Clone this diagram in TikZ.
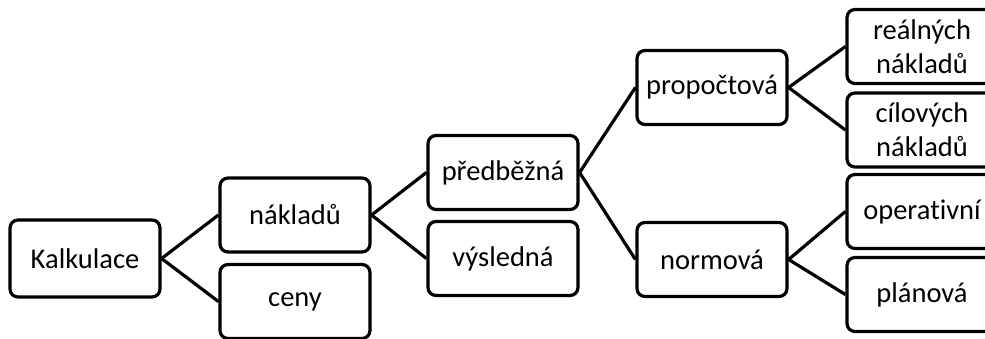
\documentclass[tikz,border=0pt]{standalone}
\usepackage{fontspec}
\setmainfont[Ligatures=NoCommon]{Carlito}
\begin{document}
\begin{tikzpicture}[x=1pt,y=-1pt,
  box/.style={draw=black, line width=3.2pt, rounded corners=8pt, minimum width=150pt,
    minimum height=74pt, inner sep=2pt, align=center, font=\fontsize{28.5}{34}\selectfont},
  link/.style={draw=black, line width=3.2pt}]
  \clip (0,0) rectangle (985,338);
  \useasboundingbox (0,0) rectangle (985,338);
  % level 0
  \node[box, minimum height=77pt] (kal) at (85,258.5) {Kalkulace};
  % level 1
  \node[box] (nak) at (295,215) {nákladů};
  \node[box] (cen) at (295,301.5) {ceny};
  % level 2
  \node[box] (pre) at (503,172.5) {předběžná};
  \node[box] (vys) at (503,258.5) {výsledná};
  % level 3
  \node[box] (pro) at (712,87.5) {propočtová};
  \node[box] (nor) at (712,259.5) {normová};
  % level 4
  \node[box] (rea) at (922,46.5) {reálných\\nákladů};
  \node[box] (cil) at (922,130) {cílových\\nákladů};
  \node[box] (ope) at (922,211.5) {operativní};
  \node[box] (pla) at (922,294.5) {plánová};
  % connectors
  \draw[link] (kal.east) -- (nak.west);
  \draw[link] (kal.east) -- (cen.west);
  \draw[link] (nak.east) -- (pre.west);
  \draw[link] (nak.east) -- (vys.west);
  \draw[link] (pre.east) -- (pro.west);
  \draw[link] (pre.east) -- (nor.west);
  \draw[link] (pro.east) -- (rea.west);
  \draw[link] (pro.east) -- (cil.west);
  \draw[link] (nor.east) -- (ope.west);
  \draw[link] (nor.east) -- (pla.west);
\end{tikzpicture}
\end{document}
